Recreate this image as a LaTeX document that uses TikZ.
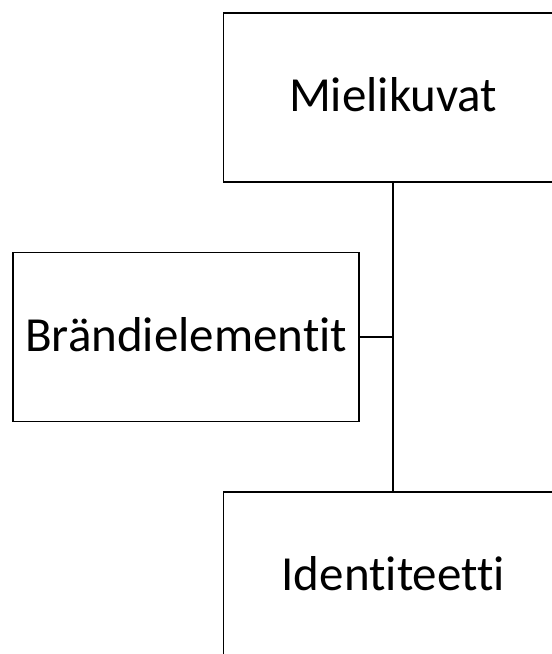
\documentclass[tikz,border=0pt]{standalone}
\usepackage{fontspec}
\setmainfont[Ligatures=NoCommon]{Carlito}
\tikzset{
    box/.style={draw, line width=1.8pt, minimum height=169pt, inner sep=0pt,
        text height=28pt, text depth=0pt,
        font=\fontsize{49}{58}\selectfont},
    link/.style={line width=1.8pt}
}

\begin{document}
\begin{tikzpicture}[x=1pt, y=-1pt]
        \useasboundingbox (0, 0) rectangle (552, 654);
        \clip (0, 0) rectangle (552, 654);

        \node [box, minimum width=339.5pt] (miel) at (393.2, 97.2) {Mielikuvat};
        \node [box, minimum width=345.7pt] (brand) at (186.2, 337) {Brändielementit};
        \node [box, minimum width=339.5pt] (ident) at (393.2, 576.8) {Identiteetti};

        \draw [link] (miel.south) -- (ident.north);
        \draw [link] (brand.east) -- (brand.east -| miel.south);
    \end{tikzpicture}
\end{document}
